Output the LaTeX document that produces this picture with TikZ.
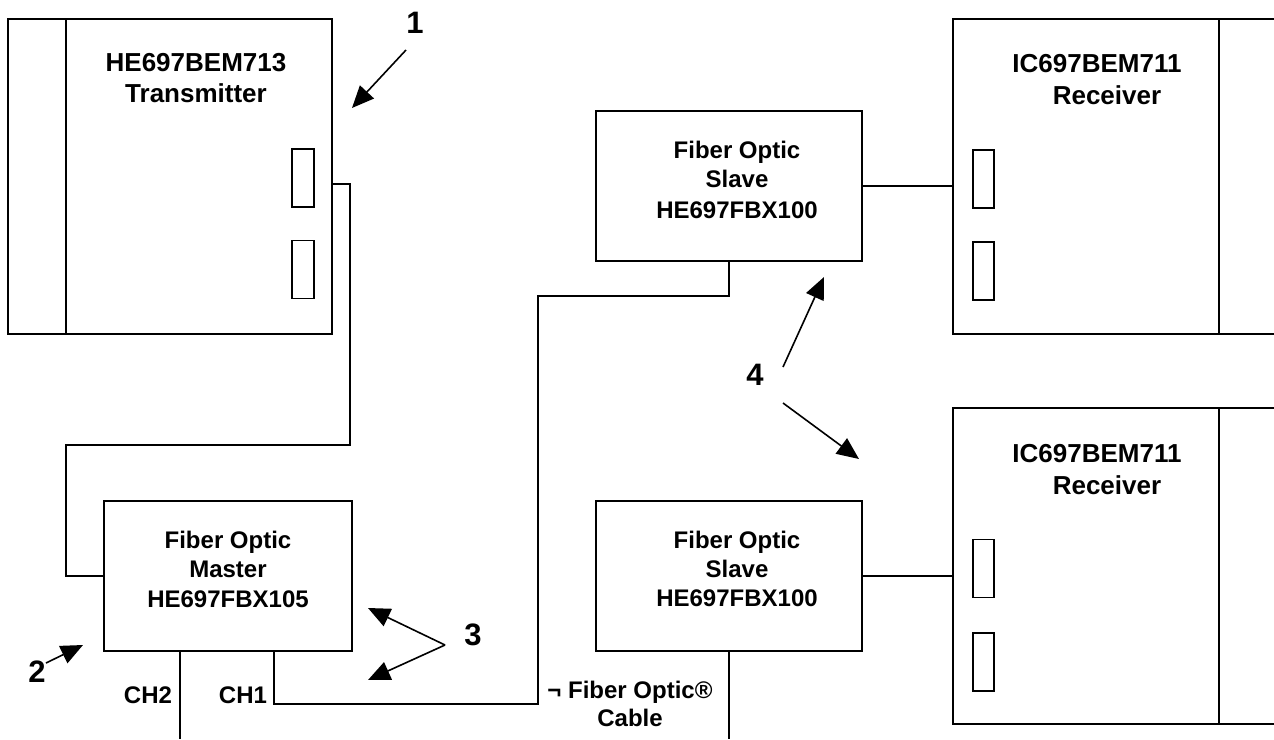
\documentclass[tikz,border=0pt]{standalone}
\usepackage{fontspec}
\setmainfont{Liberation Sans}
\usetikzlibrary{arrows.meta}
\begin{document}
\begin{tikzpicture}[x=1pt,y=-1pt, line width=1.6pt,
 box/.style={draw, rectangle, inner sep=0pt},
 port/.style={draw, rectangle, inner sep=0pt, minimum width=22pt, minimum height=58pt},
 unitlbl/.style={font=\bfseries\fontsize{26}{30}\selectfont, inner sep=0pt, anchor=base},
 fiblbl/.style={font=\bfseries\fontsize{24}{28}\selectfont, inner sep=0pt, anchor=base},
 numlbl/.style={font=\bfseries\fontsize{31}{35}\selectfont, inner sep=0pt, anchor=base},
 pointer/.style={-{Triangle[length=22pt,width=19pt]}},
 wire/.style={line width=1.6pt}]
\useasboundingbox (0,0) rectangle (1274,739);

% Transmitter
\node[box, minimum width=324pt, minimum height=315pt] (tx) at (170,176.5) {};
\draw (66,19) -- (66,334);
\node[unitlbl] (txname) at (196,71) {HE697BEM713};
\node[unitlbl] (txrole) at (196,102) {Transmitter};
\node[port] (txp1) at (303,178) {};
\node[port] (txp2) at (303,269.5) {};

% Receiver 1
\node[box, minimum width=337pt, minimum height=315pt] (rx1) at (1121.5,176.5) {};
\draw (1219,19) -- (1219,334);
\node[unitlbl] (rx1name) at (1097,72) {IC697BEM711};
\node[unitlbl] (rx1role) at (1107,104) {Receiver};
\node[port, minimum width=21pt] (rx1p1) at (983.5,179) {};
\node[port, minimum width=21pt] (rx1p2) at (983.5,271) {};

% Receiver 2
\node[box, minimum width=337pt, minimum height=316pt] (rx2) at (1121.5,566) {};
\draw (1219,408) -- (1219,724);
\node[unitlbl] (rx2name) at (1097,462) {IC697BEM711};
\node[unitlbl] (rx2role) at (1107,494) {Receiver};
\node[port, minimum width=21pt] (rx2p1) at (983.5,568.5) {};
\node[port, minimum width=21pt] (rx2p2) at (983.5,662) {};

% Master
\node[box, minimum width=248pt, minimum height=150pt] (master) at (228,576) {};
\node[fiblbl] (m1) at (228,548) {Fiber Optic};
\node[fiblbl] (m2) at (228,577) {Master};
\node[fiblbl] (m3) at (228,607) {HE697FBX105};

% Slave 1
\node[box, minimum width=266pt, minimum height=150pt] (slave1) at (729,186) {};
\node[fiblbl] (s1a) at (737,158) {Fiber Optic};
\node[fiblbl] (s1b) at (737,187) {Slave};
\node[fiblbl] (s1c) at (737,218) {HE697FBX100};

% Slave 2
\node[box, minimum width=266pt, minimum height=150pt] (slave2) at (729,576) {};
\node[fiblbl] (s2a) at (737,548) {Fiber Optic};
\node[fiblbl] (s2b) at (737,577) {Slave};
\node[fiblbl] (s2c) at (737,606) {HE697FBX100};

% Wires
\coordinate (txout) at (332,184);
\draw[wire] (txout) -- (350,184) -- (350,445) -- (66,445) -- (66,576) -- (master.west);
\coordinate (ch2) at (180,651);
\coordinate (ch2end) at (180,739);
\draw[wire] (ch2) -- (ch2end);
\coordinate (ch1) at (274,651);
\draw[wire] (ch1) -- (274,704) -- (538,704) -- (538,296) -- (729,296) -- (slave1.south);
\coordinate (s2end) at (729,739);
\draw[wire] (slave2.south) -- (s2end);
\draw[wire] (slave1.east) -- (slave1.east -| rx1.west);
\draw[wire] (slave2.east) -- (slave2.east -| rx2.west);

% Labels
\node[fiblbl] (ch2lbl) at (148,703) {CH2};
\node[fiblbl] (ch1lbl) at (243,703) {CH1};
\node[fiblbl] (cab1) at (630,698) {¬ Fiber Optic®};
\node[fiblbl] (cab2) at (630,726) {Cable};

% Numbered pointers
\node[numlbl] (n1) at (415,33) {1};
\coordinate (a1s) at (406,50);
\coordinate (a1e) at (352,108);
\draw[pointer] (a1s) -- (a1e);

\node[numlbl] (n2) at (37,682) {2};
\coordinate (a2s) at (46,663);
\coordinate (a2e) at (83,645);
\draw[pointer] (a2s) -- (a2e);

\node[numlbl] (n3) at (473,645) {3};
\coordinate (a3s) at (445,645);
\coordinate (a3u) at (368,608);
\coordinate (a3d) at (368,680);
\draw[pointer] (a3s) -- (a3u);
\draw[pointer] (a3s) -- (a3d);

\node[numlbl] (n4) at (755,385) {4};
\coordinate (a4s) at (783,367);
\coordinate (a4u) at (824,277);
\coordinate (a4t) at (783,403);
\coordinate (a4d) at (859,459);
\draw[pointer] (a4s) -- (a4u);
\draw[pointer] (a4t) -- (a4d);
\end{tikzpicture}
\end{document}
